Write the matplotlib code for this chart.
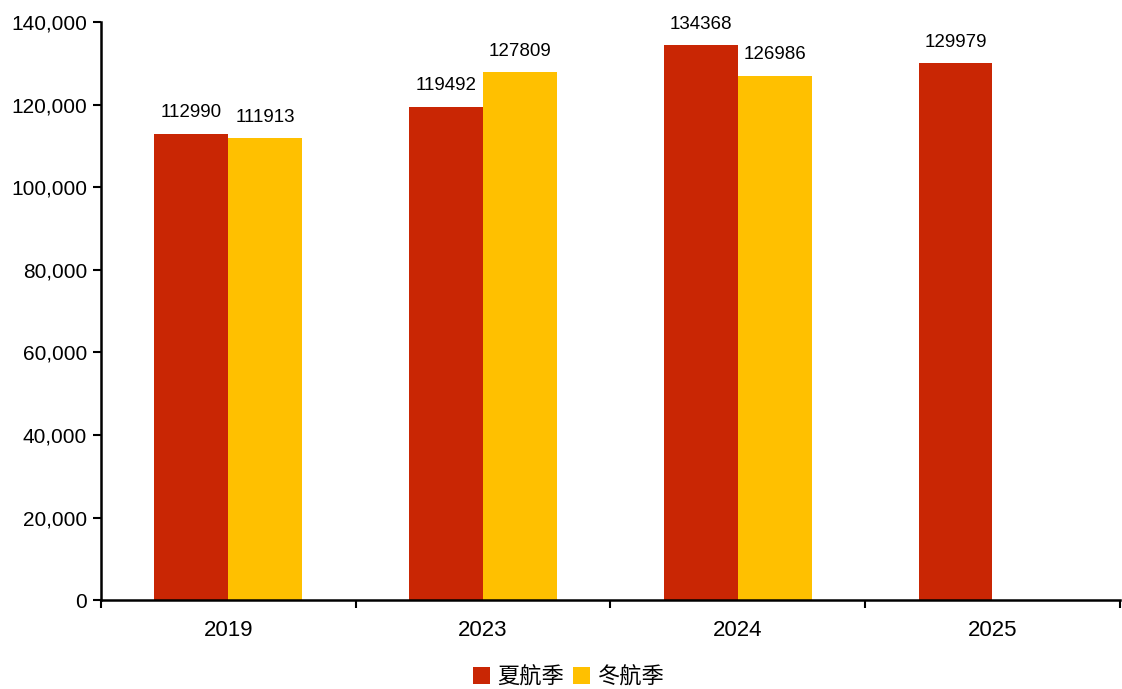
import matplotlib.pyplot as plt
import numpy as np
from matplotlib.ticker import FuncFormatter, FixedLocator

plt.rcParams['font.family'] = ['Liberation Sans', 'Noto Sans CJK SC', 'DejaVu Sans']

years = ['2019', '2023', '2024', '2025']
summer = [112990, 119492, 134368, 129979]
winter = [111913, 127809, 126986, None]
labels = ['夏航季', '冬航季']

red = '#C92604'
yellow = '#FFC000'

fig = plt.figure(figsize=(11.22, 6.89), dpi=100)
ax = fig.add_axes([0.090, 0.129, 0.908, 0.839])

x = np.arange(len(years))
w = 0.29

s_bars = ax.bar(x - w / 2, summer, w, color=red, label=labels[0])
wx = [xi + w / 2 for xi, v in zip(x, winter) if v is not None]
wv = [v for v in winter if v is not None]
w_bars = ax.bar(wx, wv, w, color=yellow, label=labels[1])

for bars in (s_bars, w_bars):
    for b in bars:
        h = b.get_height()
        ax.annotate(f'{h:.0f}', (b.get_x() + b.get_width() / 2, h),
                    xytext=(0, 9), textcoords='offset points',
                    ha='center', va='bottom', fontsize=13.5)

ax.set_ylim(0, 140000)
ax.set_xlim(-0.5, 3.5)
ax.set_yticks(np.arange(0, 140001, 20000))
ax.yaxis.set_major_formatter(FuncFormatter(lambda v, p: f'{v:,.0f}'))
ax.tick_params(axis='y', labelsize=15, length=6, width=1.5, pad=4)

ax.set_xticks(x)
ax.set_xticklabels(years, fontsize=16)
ax.tick_params(axis='x', length=0, pad=14)
ax.xaxis.set_minor_locator(FixedLocator(np.arange(-0.5, 3.6, 1)))
ax.tick_params(axis='x', which='minor', length=6, width=1.5)

for s in ['top', 'right']:
    ax.spines[s].set_visible(False)
for s in ['left', 'bottom']:
    ax.spines[s].set_linewidth(1.8)

fig.legend(loc='lower center', bbox_to_anchor=(0.507, -0.028), ncol=2, frameon=False,
           fontsize=16, handlelength=0.75, handleheight=0.75, handletextpad=0.35,
           columnspacing=0.4)

fig.savefig('out.png', dpi=100)
